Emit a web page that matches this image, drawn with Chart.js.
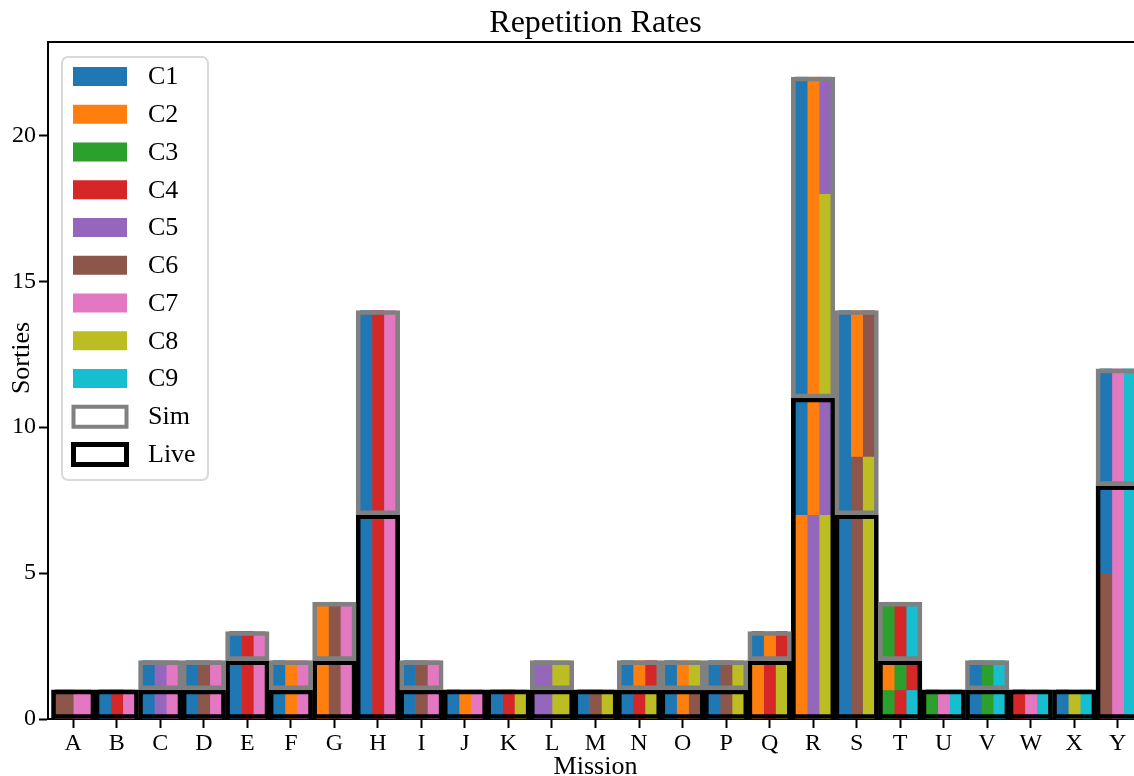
<!DOCTYPE html>
<html>
<head>
<meta charset="utf-8">
<title>Repetition Rates</title>
<script src="https://cdn.jsdelivr.net/npm/chart.js@4.4.1/dist/chart.umd.min.js"></script>
<style>
    html, body { margin: 0; padding: 0; overflow: hidden; background: #fff; }
    #wrap { width: 1143px; height: 776px; }
</style>
</head>
<body>
<div id="wrap"><canvas id="chart" width="1143" height="776"></canvas></div>
<script>
const missions = ['A', 'B', 'C', 'D', 'E', 'F', 'G', 'H', 'I', 'J', 'K', 'L', 'M',
    'N', 'O', 'P', 'Q', 'R', 'S', 'T', 'U', 'V', 'W', 'X', 'Y'];
const classes = ['C1', 'C2', 'C3', 'C4', 'C5', 'C6', 'C7', 'C8', 'C9'];
const classColors = ['#1f77b4', '#ff7f0e', '#2ca02c', '#d62728', '#9467bd',
    '#8c564b', '#e377c2', '#bcbd22', '#17becf'];

// sorties per mission
const liveCounts = [1, 1, 1, 1, 2, 1, 2, 7, 1, 1, 1, 1, 1, 1, 1, 1, 2, 11, 7, 2, 1, 1, 1, 1, 8];
const simCounts  = [0, 0, 1, 1, 1, 1, 2, 7, 1, 0, 0, 1, 0, 1, 1, 1, 1, 11, 7, 2, 0, 1, 0, 0, 4];

// stripes of each block, left to right. a plain name fills the whole block,
// otherwise [class, sorties] pieces from the bottom up
const liveStripes = [
    ['C6', 'C7'],
    ['C1', 'C4', 'C7'],
    ['C1', 'C5', 'C7'],
    ['C1', 'C6', 'C7'],
    ['C1', 'C4', 'C7'],
    ['C1', 'C2', 'C7'],
    ['C2', 'C6', 'C7'],
    ['C1', 'C4', 'C7'],
    ['C1', 'C6', 'C7'],
    ['C1', 'C2', 'C7'],
    ['C1', 'C4', 'C8'],
    ['C5', 'C8'],
    ['C1', 'C6', 'C8'],
    ['C1', 'C4', 'C8'],
    ['C1', 'C2', 'C6'],
    ['C1', 'C6', 'C8'],
    ['C2', 'C4', 'C8'],
    [[['C2', 7], ['C1', 4]], [['C5', 7], ['C2', 4]], [['C8', 7], ['C5', 4]]],
    ['C1', 'C6', 'C8'],
    [[['C3', 1], ['C2', 1]], [['C4', 1], ['C3', 1]], [['C9', 1], ['C4', 1]]],
    ['C3', 'C7', 'C9'],
    ['C1', 'C3', 'C9'],
    ['C4', 'C7', 'C9'],
    ['C1', 'C8', 'C9'],
    [[['C6', 5], ['C1', 3]], 'C7', 'C9']
];
const simStripes = [
    null,
    null,
    ['C1', 'C5', 'C7'],
    ['C1', 'C6', 'C7'],
    ['C1', 'C4', 'C7'],
    ['C1', 'C2', 'C7'],
    ['C2', 'C6', 'C7'],
    ['C1', 'C4', 'C7'],
    ['C1', 'C6', 'C7'],
    null,
    null,
    ['C5', 'C8'],
    null,
    ['C1', 'C2', 'C4'],
    ['C1', 'C2', 'C8'],
    ['C1', 'C6', 'C8'],
    ['C1', 'C2', 'C4'],
    ['C1', 'C2', [['C8', 7], ['C5', 4]]],
    ['C1', [['C6', 2], ['C2', 5]], [['C8', 2], ['C6', 5]]],
    ['C3', 'C4', 'C9'],
    null,
    ['C1', 'C3', 'C9'],
    null,
    null,
    ['C1', 'C7', 'C9']
];
const yTicks = [0, 5, 10, 15, 20];

const FONT = "'Liberation Serif', 'DejaVu Serif', serif";
const innerFrac = 0.82;
const xMin = -0.58;
const xMax = 24.58;

Chart.defaults.font.family = FONT;
Chart.defaults.color = '#000';

function buildSegments(blocks, heights, bases) {
    const segs = [];
    blocks.forEach(function (block, i) {
        if (!block) return;
        const n = block.length;
        const w = innerFrac / n;
        block.forEach(function (stripe, k) {
            const pieces = typeof stripe === 'string' ? [[stripe, heights[i]]] : stripe;
            let y0 = bases[i];
            pieces.forEach(function (p) {
                segs.push({
                    cls: p[0],
                    n: n,
                    point: { x: i - innerFrac / 2 + (k + 0.5) * w, y: [y0, y0 + p[1]] }
                });
                y0 += p[1];
            });
        });
    });
    return segs;
}

const segments = buildSegments(liveStripes, liveCounts, liveCounts.map(() => 0))
    .concat(buildSegments(simStripes, simCounts, liveCounts));

const datasets = [
    {
        label: 'Sim',
        data: missions.map((m, i) => simCounts[i] ? { x: i, y: [liveCounts[i], liveCounts[i] + simCounts[i]] } : null)
            .filter(Boolean),
        xAxisID: 'x2',
        backgroundColor: 'rgba(0,0,0,0)',
        borderColor: '#808080',
        borderWidth: 4,
        legendRank: 9
    },
    {
        label: 'Live',
        data: missions.map((m, i) => ({ x: i, y: [0, liveCounts[i]] })),
        xAxisID: 'x2',
        backgroundColor: 'rgba(0,0,0,0)',
        borderColor: '#000000',
        borderWidth: 4,
        legendRank: 10
    }
];

classes.forEach(function (c, ci) {
    let shown = false;
    [3, 2].forEach(function (n) {
        const data = segments.filter(s => s.cls === c && s.n === n).map(s => s.point);
        if (!data.length) return;
        datasets.push({
            label: c,
            data: data,
            xAxisID: n === 3 ? 'x' : 'x3',
            backgroundColor: classColors[ci],
            borderWidth: 0,
            legendRank: shown ? undefined : ci
        });
        shown = true;
    });
});

datasets.forEach(function (ds) {
    ds.grouped = false;
    ds.borderSkipped = false;
    ds.barPercentage = 1;
    ds.categoryPercentage = 1;
});

function intTicks(scale) {
    scale.ticks = missions.map((m, i) => ({ value: i }));
}

const tickGrid = {
    display: true,
    drawOnChartArea: false,
    drawTicks: true,
    tickLength: 9,
    tickColor: '#000',
    tickWidth: 2,
    offset: false
};

const boxLegend = {
    id: 'boxLegend',
    afterDraw(chart) {
        const ctx = chart.ctx;
        const area = chart.chartArea;
        const items = chart.data.datasets
            .filter(d => d.legendRank !== undefined)
            .sort((a, b) => a.legendRank - b.legendRank);
        const x0 = area.left + 14;
        const y0 = area.top + 15;
        const rowH = 37.75;

        ctx.save();
        ctx.beginPath();
        ctx.roundRect(x0, y0, 146, 423, 6);
        ctx.fillStyle = 'rgba(255,255,255,0.8)';
        ctx.fill();
        ctx.lineWidth = 2;
        ctx.strokeStyle = '#d9d9d9';
        ctx.stroke();

        ctx.font = '26px ' + FONT;
        ctx.textBaseline = 'middle';
        ctx.textAlign = 'left';
        items.forEach(function (it, i) {
            const cy = y0 + 19.5 + i * rowH;
            if (it.borderWidth) {
                ctx.lineWidth = it.label === 'Live' ? 5 : 4;
                ctx.strokeStyle = it.borderColor;
                ctx.strokeRect(x0 + 11.5, cy - 9.5, 53, 20);
            } else {
                ctx.fillStyle = it.backgroundColor;
                ctx.fillRect(x0 + 11, cy - 9.5, 54, 19);
            }
            ctx.fillStyle = '#000';
            ctx.fillText(it.label, x0 + 86, cy + 1);
        });

        // y axis label
        ctx.translate(22, 358);
        ctx.rotate(-Math.PI / 2);
        ctx.textAlign = 'center';
        ctx.fillText('Sorties', 0, 0);
        ctx.restore();
    },
    afterDatasetsDraw(chart) {
        const ctx = chart.ctx;
        const area = chart.chartArea;
        ctx.save();
        ctx.strokeStyle = '#000';
        ctx.lineWidth = 2;
        ctx.beginPath();
        ctx.moveTo(area.left - 1, area.top);
        ctx.lineTo(area.right, area.top);
        ctx.stroke();
        ctx.restore();
    }
};

new Chart(document.getElementById('chart'), {
    type: 'bar',
    data: { datasets: datasets },
    options: {
        responsive: false,
        animation: false,
        events: [],
        layout: { padding: 0 },
        plugins: {
            legend: { display: false },
            tooltip: { enabled: false },
            title: {
                display: true,
                text: 'Repetition Rates',
                fullSize: false,
                color: '#000',
                font: { size: 32, weight: 'normal', lineHeight: 1 },
                padding: { top: 8, bottom: 2 }
            }
        },
        scales: {
            x: {
                type: 'linear',
                min: xMin,
                max: xMax,
                offset: false,
                afterBuildTicks: intTicks,
                afterFit: s => { s.height = 57; },
                ticks: {
                    callback: v => missions[v],
                    autoSkip: false,
                    maxRotation: 0,
                    color: '#000',
                    font: { size: 24 },
                    padding: 1
                },
                grid: tickGrid,
                border: { display: true, color: '#000', width: 2 },
                title: {
                    display: true,
                    text: 'Mission',
                    color: '#000',
                    font: { size: 26, lineHeight: 0.7 },
                    padding: 0
                }
            },
            x2: { type: 'linear', display: false, min: xMin, max: xMax, offset: false, afterBuildTicks: intTicks },
            x3: { type: 'linear', display: false, min: xMin, max: xMax, offset: false, afterBuildTicks: intTicks },
            y: {
                min: 0,
                max: 23.2,
                afterBuildTicks: s => { s.ticks = yTicks.map(v => ({ value: v })); },
                afterFit: s => { s.width = 48; },
                ticks: { color: '#000', font: { size: 24 }, padding: 3 },
                grid: tickGrid,
                border: { display: true, color: '#000', width: 2 }
            }
        }
    },
    plugins: [boxLegend]
});
</script>
</body>
</html>
